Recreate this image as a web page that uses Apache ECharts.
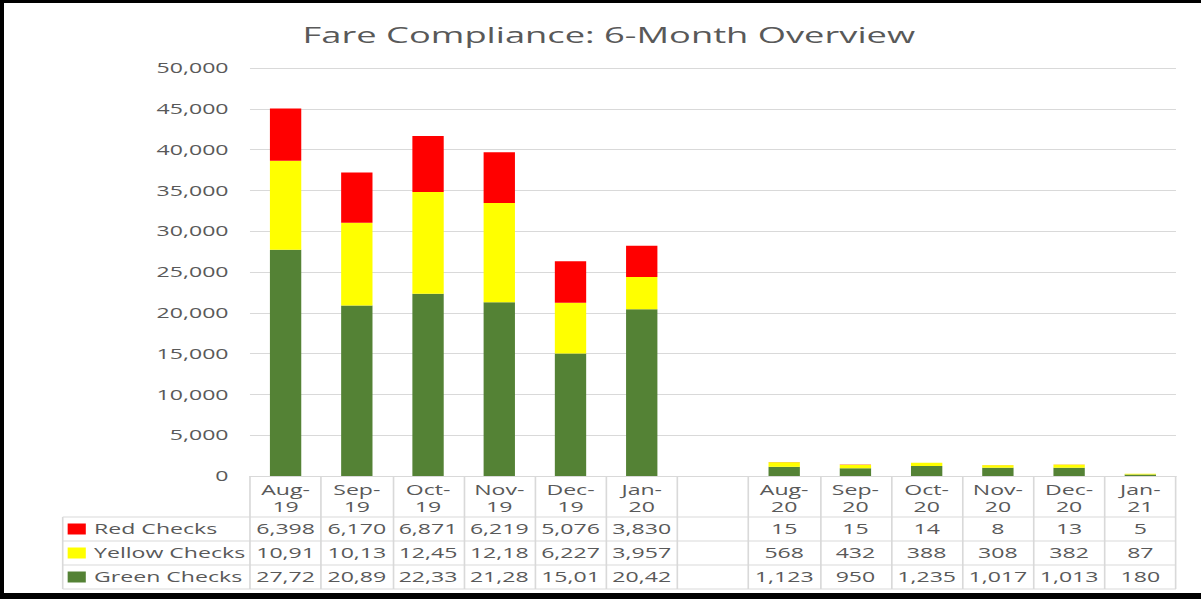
<!DOCTYPE html>
<html>
<head>
<meta charset="utf-8">
<script src="https://cdn.jsdelivr.net/npm/echarts@6/dist/echarts.min.js"></script>
<style>
html, body { margin: 0; padding: 0; background: #fff; overflow: hidden; }
/* the reference picture is stretched sideways, so the chart is too */
#main { position: absolute; left: 0; top: 0; width: 728px; height: 599px; transform: scaleX(1.65); transform-origin: 0 0; }
#frame { position: absolute; left: 0; top: 0; width: 1201px; height: 599px; box-sizing: border-box;
  border-left: 4px solid #000; border-top: 3px solid #000; border-bottom: 6px solid #000; pointer-events: none; }
</style>
</head>
<body>
<div id="main"></div>
<div id="frame"></div>
<script>
// data
const months = ['Aug-\n19', 'Sep-\n19', 'Oct-\n19', 'Nov-\n19', 'Dec-\n19', 'Jan-\n20', '',
  'Aug-\n20', 'Sep-\n20', 'Oct-\n20', 'Nov-\n20', 'Dec-\n20', 'Jan-\n21'];
const redChecks = [6398, 6170, 6871, 6219, 5076, 3830, null, 15, 15, 14, 8, 13, 5];
const yellowChecks = [10914, 10132, 12455, 12186, 6227, 3957, null, 568, 432, 388, 308, 382, 87];
const greenChecks = [27723, 20894, 22335, 21283, 15012, 20427, null, 1123, 950, 1235, 1017, 1013, 180];

const W = 728;
const gridLeft = 151.5, gridRight = 15.3, gridTop = 68, gridBottom = 123;
const axisY = 599 - gridBottom;       // 476
const rowLines = [41, 65, 89, 113];   // table row borders below the axis
const tableLeft = 38;
const txt = '#595959', line = '#d9d9d9', font = 'Open Sans';

function fmt(v) { return v == null ? '' : v.toLocaleString('en-US'); }

// one hidden x axis per table row, its labels are the row's values
function rowAxis(values, offset) {
  return {
    type: 'category', data: months, gridIndex: 0, position: 'bottom', offset: offset,
    axisLine: { show: false }, axisTick: { show: false },
    axisLabel: {
      interval: 0, margin: 4, fontSize: 14, lineHeight: 16, color: txt, fontFamily: font,
      width: 42, overflow: 'truncate', ellipsis: '',
      formatter: (v, i) => fmt(values[i])
    }
  };
}

const tableLines = [];
rowLines.forEach(d => {
  tableLines.push({ type: 'line', silent: true,
    shape: { x1: tableLeft, y1: axisY + d, x2: W - gridRight, y2: axisY + d },
    style: { stroke: line, lineWidth: 1 } });
});
tableLines.push({ type: 'line', silent: true,
  shape: { x1: tableLeft, y1: axisY + rowLines[0], x2: tableLeft, y2: axisY + rowLines[3] },
  style: { stroke: line, lineWidth: 1 } });

const chart = echarts.init(document.getElementById('main'), null, { renderer: 'svg' });

chart.setOption({
  animation: false,
  title: {
    text: 'Fare Compliance: 6-Month Overview',
    left: 364, top: 19, textAlign: 'center',
    textStyle: { fontFamily: font, fontSize: 22, fontWeight: 'normal', color: txt }
  },
  legend: {
    orient: 'vertical', left: 41, top: 522, padding: 0,
    itemWidth: 11, itemHeight: 11, itemGap: 10, icon: 'rect',
    data: ['Red Checks', 'Yellow Checks', 'Green Checks'],
    textStyle: { fontFamily: font, fontSize: 14, lineHeight: 14, color: txt }
  },
  grid: { left: gridLeft, right: gridRight, top: gridTop, bottom: gridBottom },
  xAxis: [
    {
      type: 'category', data: months, position: 'bottom',
      axisLine: { lineStyle: { color: line } },
      axisTick: { show: true, interval: 0, length: rowLines[3], lineStyle: { color: line } },
      axisLabel: { interval: 0, margin: 5, fontSize: 14, lineHeight: 17, color: txt, fontFamily: font }
    },
    rowAxis(redChecks, rowLines[0]),
    rowAxis(yellowChecks, rowLines[1]),
    rowAxis(greenChecks, rowLines[2])
  ],
  yAxis: {
    type: 'value', min: 0, max: 50000, interval: 5000,
    axisLine: { show: false }, axisTick: { show: false },
    splitLine: { lineStyle: { color: line } },
    axisLabel: { margin: 13, fontSize: 14, color: txt, fontFamily: font, formatter: v => fmt(v) }
  },
  series: [
    { name: 'Green Checks', type: 'bar', stack: 'total', barWidth: '44%', data: greenChecks, itemStyle: { color: '#548235' } },
    { name: 'Yellow Checks', type: 'bar', stack: 'total', data: yellowChecks, itemStyle: { color: '#ffff00' } },
    { name: 'Red Checks', type: 'bar', stack: 'total', data: redChecks, itemStyle: { color: '#ff0000' } }
  ],
  graphic: tableLines
});
</script>
</body>
</html>
